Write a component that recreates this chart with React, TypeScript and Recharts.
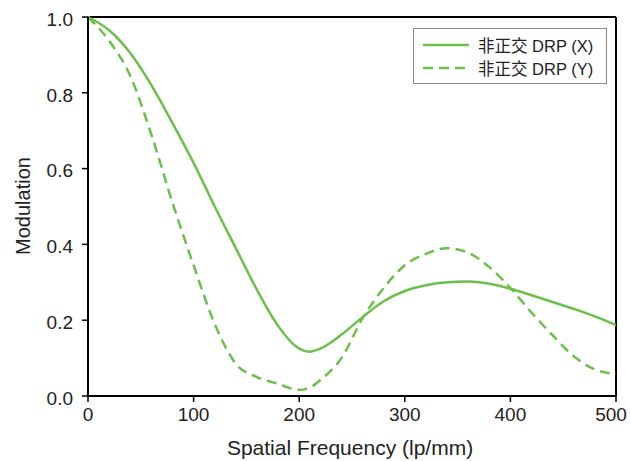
import { LineChart, Line, XAxis, YAxis, ReferenceLine, Label } from 'recharts'

// MTF curves, non-orthogonal DRP
const frequencies = [0, 20, 40, 60, 80, 100, 120, 140, 160, 180, 200, 210, 220, 240, 260, 280, 300, 320, 340, 360, 380, 400, 420, 440, 460, 480, 500]
const modulationX = [1.0, 0.965, 0.905, 0.82, 0.72, 0.615, 0.5, 0.39, 0.28, 0.185, 0.125, 0.117, 0.125, 0.162, 0.208, 0.25, 0.277, 0.292, 0.3, 0.302, 0.296, 0.283, 0.266, 0.248, 0.23, 0.21, 0.187]
const modulationY = [1.0, 0.937, 0.845, 0.69, 0.51, 0.345, 0.19, 0.085, 0.05, 0.032, 0.016, 0.022, 0.042, 0.1, 0.205, 0.285, 0.345, 0.375, 0.39, 0.378, 0.34, 0.285, 0.22, 0.16, 0.105, 0.07, 0.058]
const xTicks = [0, 100, 200, 300, 400, 500]
const yTicks = [0, 0.2, 0.4, 0.6, 0.8, 1.0]
const seriesNames = ['非正交 DRP (X)', '非正交 DRP (Y)']

const data = frequencies.map((f, i) => ({ freq: f, x: modulationX[i], y: modulationY[i] }))

const GREEN = '#6cbf4a'
const FONT = "'Liberation Sans', Arial, 'Noto Sans CJK SC', sans-serif"

function LegendBox() {
  const row = (dash: string | undefined, name: string) => (
    <div style={{ display: 'flex', alignItems: 'center', height: 23 }}>
      <svg width={48} height={10} style={{ marginRight: 8 }}>
        <line x1={1} y1={5} x2={47} y2={5} stroke={GREEN} strokeWidth={2.5} strokeDasharray={dash} />
      </svg>
      <span>{name}</span>
    </div>
  )
  return (
    <div
      style={{
        position: 'absolute',
        left: 413,
        top: 28,
        border: '1px solid #8a8a8a',
        width: 184,
        padding: '4px 0 4px 8px',
        background: '#fff',
        fontFamily: FONT,
        fontSize: 16.5,
        color: '#222',
      }}>
      {row(undefined, seriesNames[0])}
      {row('10 6', seriesNames[1])}
    </div>
  )
}

// x tick labels; the last one is nudged left so it stays inside the frame
const XTick = ({ x, y, payload }: any) => (
  <text
    x={payload.value === 500 ? x - 5 : x}
    y={y}
    dy="0.71em"
    textAnchor="middle"
    style={{ fill: '#222', fontSize: 19, fontFamily: FONT }}>
    {payload.value}
  </text>
)

export default function App() {
  return (
    <div style={{ position: 'absolute', left: 0, top: 0, width: 630, height: 461, background: '#fff' }}>
      <LineChart width={630} height={461} data={data} margin={{ top: 17, right: 14, bottom: 0, left: 0 }}>
        <XAxis
          dataKey="freq"
          type="number"
          domain={[0, 500]}
          ticks={xTicks}
          axisLine={{ stroke: '#000', strokeWidth: 2 }}
          tickLine={{ stroke: '#000', strokeWidth: 1.5 }}
          tickSize={6}
          tickMargin={6}
          tick={<XTick />}
          height={65}>
          <Label
            content={() => (
              <text
                x={350}
                y={455}
                textAnchor="middle"
                style={{ fill: '#222', fontSize: 21, fontFamily: FONT }}>
                Spatial Frequency (lp/mm)
              </text>
            )}
          />
        </XAxis>
        <YAxis
          type="number"
          domain={[0, 1]}
          ticks={yTicks}
          tickFormatter={(v: number) => v.toFixed(1)}
          axisLine={{ stroke: '#000', strokeWidth: 2 }}
          tickLine={{ stroke: '#000', strokeWidth: 1.5 }}
          tickSize={6}
          tickMargin={9}
          tick={{ fill: '#222', fontSize: 19, fontFamily: FONT, dy: 2 }}
          width={88}>
          <Label
            content={() => (
              <text
                x={23}
                y={206}
                transform="rotate(-90 23 206)"
                textAnchor="middle"
                dominantBaseline="central"
                style={{ fill: '#222', fontSize: 20, fontFamily: FONT }}>
                Modulation
              </text>
            )}
          />
        </YAxis>
        <ReferenceLine y={1} stroke="#000" strokeWidth={2} />
        <ReferenceLine x={500} stroke="#000" strokeWidth={2} />
        <Line
          type="monotone"
          dataKey="x"
          name={seriesNames[0]}
          stroke={GREEN}
          strokeWidth={2.5}
          dot={false}
          isAnimationActive={false}
        />
        <Line
          type="monotone"
          dataKey="y"
          name={seriesNames[1]}
          stroke={GREEN}
          strokeWidth={2.5}
          strokeDasharray="10 6"
          dot={false}
          isAnimationActive={false}
        />
      </LineChart>
      <LegendBox />
    </div>
  )
}
